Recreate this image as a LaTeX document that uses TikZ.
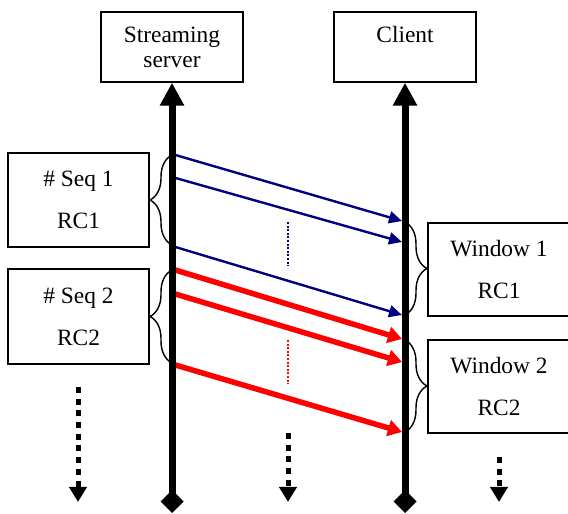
\documentclass[tikz,border=0pt]{standalone}
\usepackage{fontspec}
\setmainfont{Liberation Serif}
\usetikzlibrary{arrows.meta,decorations.pathreplacing}

\begin{document}
\begin{tikzpicture}[>=latex,line join=miter,
  box/.style={draw,line width=1.4bp,inner sep=0pt,align=center,font=\fontsize{23.5}{25}\selectfont},
  timeline/.style={line width=7bp,{Diamond[length=23bp,width=23bp]}-{Triangle[length=23bp,width=23bp]}},
  pktblue/.style={draw={rgb,255:red,0;green,0;blue,128},line width=2.4bp,-{Triangle[length=13bp,width=12bp]}},
  pktred/.style={draw=red,line width=5.5bp,-{Triangle[length=14bp,width=16bp]}},
  grp/.style={line width=1.4bp,decorate,decoration={brace,amplitude=22bp}},
  more/.style={line width=5bp,dash pattern=on 6bp off 5.7bp,-{Triangle[length=15bp,width=17bp]}},
  gap/.style={line width=2.4bp,dash pattern=on 2bp off 1.6bp},
]
\useasboundingbox (0bp,0bp) rectangle (568bp,514bp);
%%
\node (node_server) at (172bp,467bp) [box,minimum width=142bp,minimum height=70bp] {Streaming\\server};
  \node (node_client) at (405bp,467bp) [box,minimum width=142bp,minimum height=70bp] {Client\\\mbox{}};
  \node (node_seq1) at (78.5bp,314bp) [box,minimum width=141bp,minimum height=94bp] {\# Seq 1\\[17bp]RC1};
  \node (node_seq2) at (78.5bp,197.5bp) [box,minimum width=141bp,minimum height=95bp] {\# Seq 2\\[17bp]RC2};
  \node (node_win1) at (499bp,244.5bp) [box,minimum width=142bp,minimum height=93bp] {Window 1\\[17bp]RC1};
  \node (node_win2) at (499bp,127.5bp) [box,minimum width=142bp,minimum height=93bp] {Window 2\\[17bp]RC2};
%%
\coordinate (srv_end) at (172bp,1bp);
  \coordinate (cli_end) at (405bp,1bp);
  \coordinate (s_1) at (172bp,360bp);
  \coordinate (s_2) at (172bp,337bp);
  \coordinate (s_3) at (172bp,268bp);
  \coordinate (s_4) at (172bp,245bp);
  \coordinate (s_5) at (172bp,221bp);
  \coordinate (s_6) at (172bp,150bp);
  \coordinate (c_1) at (402bp,293bp);
  \coordinate (c_2) at (402bp,272bp);
  \coordinate (c_3) at (402bp,199bp);
  \coordinate (c_4) at (402bp,175bp);
  \coordinate (c_5) at (402bp,152bp);
  \coordinate (c_6) at (402bp,82bp);
%
\draw [pktblue] (s_1) -- (c_1);
  \draw [pktblue] (s_2) -- (c_2);
  \draw [pktblue] (s_3) -- (c_3);
  \draw [pktred] (s_4) -- (c_4);
  \draw [pktred] (s_5) -- (c_5);
  \draw [pktred] (s_6) -- (c_6);
%
\draw [timeline] (srv_end) -- (node_server.south);
  \draw [timeline] (cli_end) -- (node_client.south);
%
\draw [grp] (172bp,269bp) -- (172bp,359bp);
  \draw [grp] (172bp,151bp) -- (172bp,244bp);
  \draw [grp] (405bp,292bp) -- (405bp,199bp);
  \draw [grp] (405bp,174bp) -- (405bp,82bp);
%
\coordinate (gap_b1) at (288bp,292bp);
  \coordinate (gap_b2) at (288bp,248bp);
  \coordinate (gap_r1) at (288bp,174bp);
  \coordinate (gap_r2) at (288bp,130bp);
  \draw [gap,draw={rgb,255:red,0;green,0;blue,128}] (gap_b1) -- (gap_b2);
  \draw [gap,draw=red] (gap_r1) -- (gap_r2);
%
\coordinate (more_l1) at (78bp,127bp);
  \coordinate (more_l2) at (78bp,12bp);
  \coordinate (more_m1) at (288bp,81bp);
  \coordinate (more_m2) at (288bp,12bp);
  \coordinate (more_r1) at (499bp,57bp);
  \coordinate (more_r2) at (499bp,12bp);
  \draw [more] (more_l1) -- (more_l2);
  \draw [more] (more_m1) -- (more_m2);
  \draw [more] (more_r1) -- (more_r2);
%
\end{tikzpicture}
\end{document}
